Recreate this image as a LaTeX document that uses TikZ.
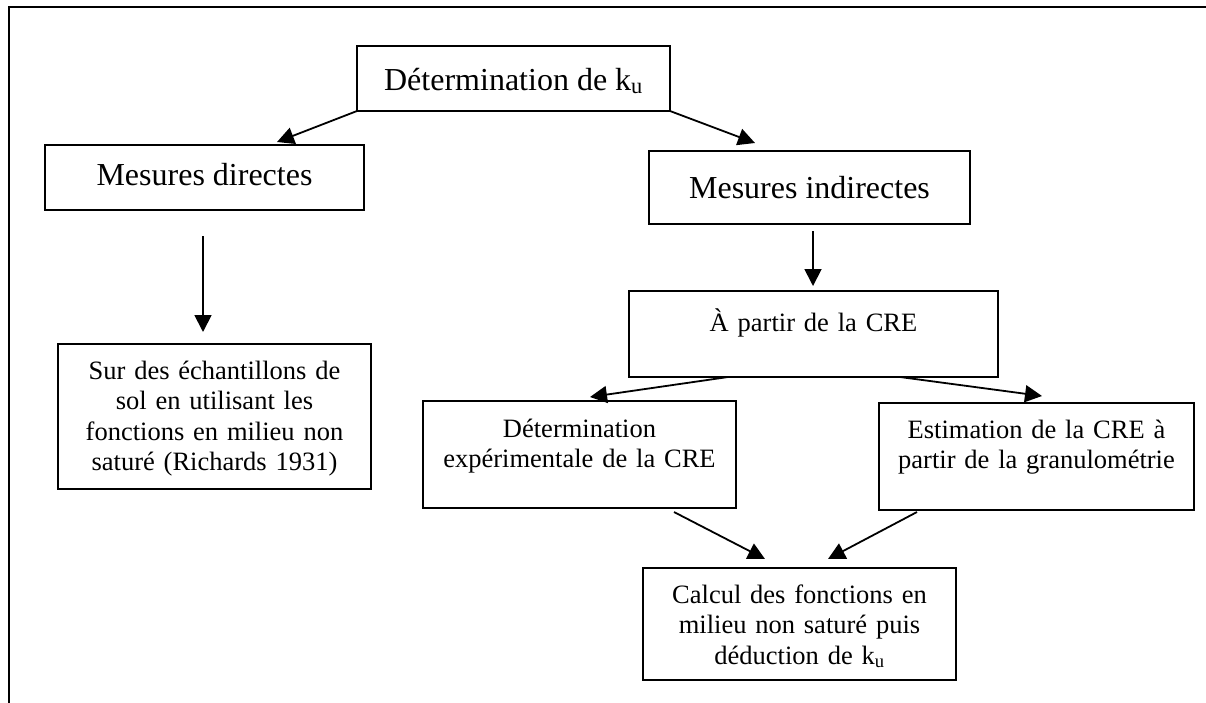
\documentclass[tikz,border=0pt]{standalone}
\usepackage{fontspec}
\setmainfont{Liberation Serif}
\usetikzlibrary{arrows.meta}
\begin{document}
\begin{tikzpicture}[x=1pt,y=-1pt,
  box/.style={draw, line width=1.9pt, inner sep=0pt, outer sep=0pt},
  bigtxt/.style={inner sep=0pt, outer sep=0pt, anchor=base, font=\fontsize{32}{36}\selectfont},
  smtxt/.style={inner sep=0pt, outer sep=0pt, anchor=base, align=center, text width=330pt, font=\fontsize{26.5}{30.5}\selectfont},
  arr/.style={line width=1.8pt, -{Triangle[length=17pt,width=17pt]}},
  frameline/.style={line width=2.6pt}]
\useasboundingbox (0,0) rectangle (1206,702);
% frame
\coordinate (fb) at (9,703);
\coordinate (fr) at (1207,7);
\draw[frameline] (fb) |- (fr);
% boxes
\node[box, minimum width=313pt, minimum height=65pt] (top) at (513.5,78.5) {};
\node[box, minimum width=319pt, minimum height=65pt] (md) at (204.5,177.5) {};
\node[box, minimum width=313pt, minimum height=145pt] (sur) at (214.5,416.5) {};
\node[box, minimum width=321pt, minimum height=73pt] (mi) at (809.5,187.5) {};
\node[box, minimum width=369pt, minimum height=86pt] (ap) at (813.5,334) {};
\node[box, minimum width=313pt, minimum height=107pt] (de) at (579.5,454.5) {};
\node[box, minimum width=315pt, minimum height=107pt] (es) at (1036.5,456.5) {};
\node[box, minimum width=313pt, minimum height=112pt] (ca) at (799.5,624) {};
% texts
\node[bigtxt] (ttop) at (513.5,90) {Détermination de k\textsubscript{u}};
\node[bigtxt] (tmd) at (204.5,185) {Mesures directes};
\node[bigtxt] (tmi) at (809.5,198) {Mesures indirectes};
\node[smtxt] (tsur) at (214.5,379) {Sur des échantillons de\\sol en utilisant les\\fonctions en milieu non\\saturé (Richards 1931)};
\node[smtxt] (tap) at (813.5,331.5) {À partir de la CRE};
\node[smtxt] (tde) at (579.5,437) {Détermination\\expérimentale de la CRE};
\node[smtxt] (tes) at (1036.5,438) {Estimation de la CRE à\\partir de la granulométrie};
\node[smtxt] (tca) at (799.5,603) {Calcul des fonctions en\\milieu non saturé puis\\déduction de k\textsubscript{u}};
% connector points
\coordinate (a1e) at (277,142);
\coordinate (a2e) at (755,143);
\coordinate (a3s) at (203,236);
\coordinate (a3e) at (203,332);
\coordinate (a4s) at (813,231);
\coordinate (a4e) at (813,286);
\coordinate (a5s) at (728,377);
\coordinate (a5e) at (590,397);
\coordinate (a6s) at (900,377);
\coordinate (a6e) at (1042,396);
\coordinate (a7s) at (674,512);
\coordinate (a7e) at (765,559);
\coordinate (a8s) at (917,512);
\coordinate (a8e) at (828,559);
% connectors
\draw[arr] (top.south west) -- (a1e);
\draw[arr] (top.south east) -- (a2e);
\draw[arr] (a3s) -- (a3e);
\draw[arr] (a4s) -- (a4e);
\draw[arr] (a5s) -- (a5e);
\draw[arr] (a6s) -- (a6e);
\draw[arr] (a7s) -- (a7e);
\draw[arr] (a8s) -- (a8e);
\end{tikzpicture}
\end{document}
